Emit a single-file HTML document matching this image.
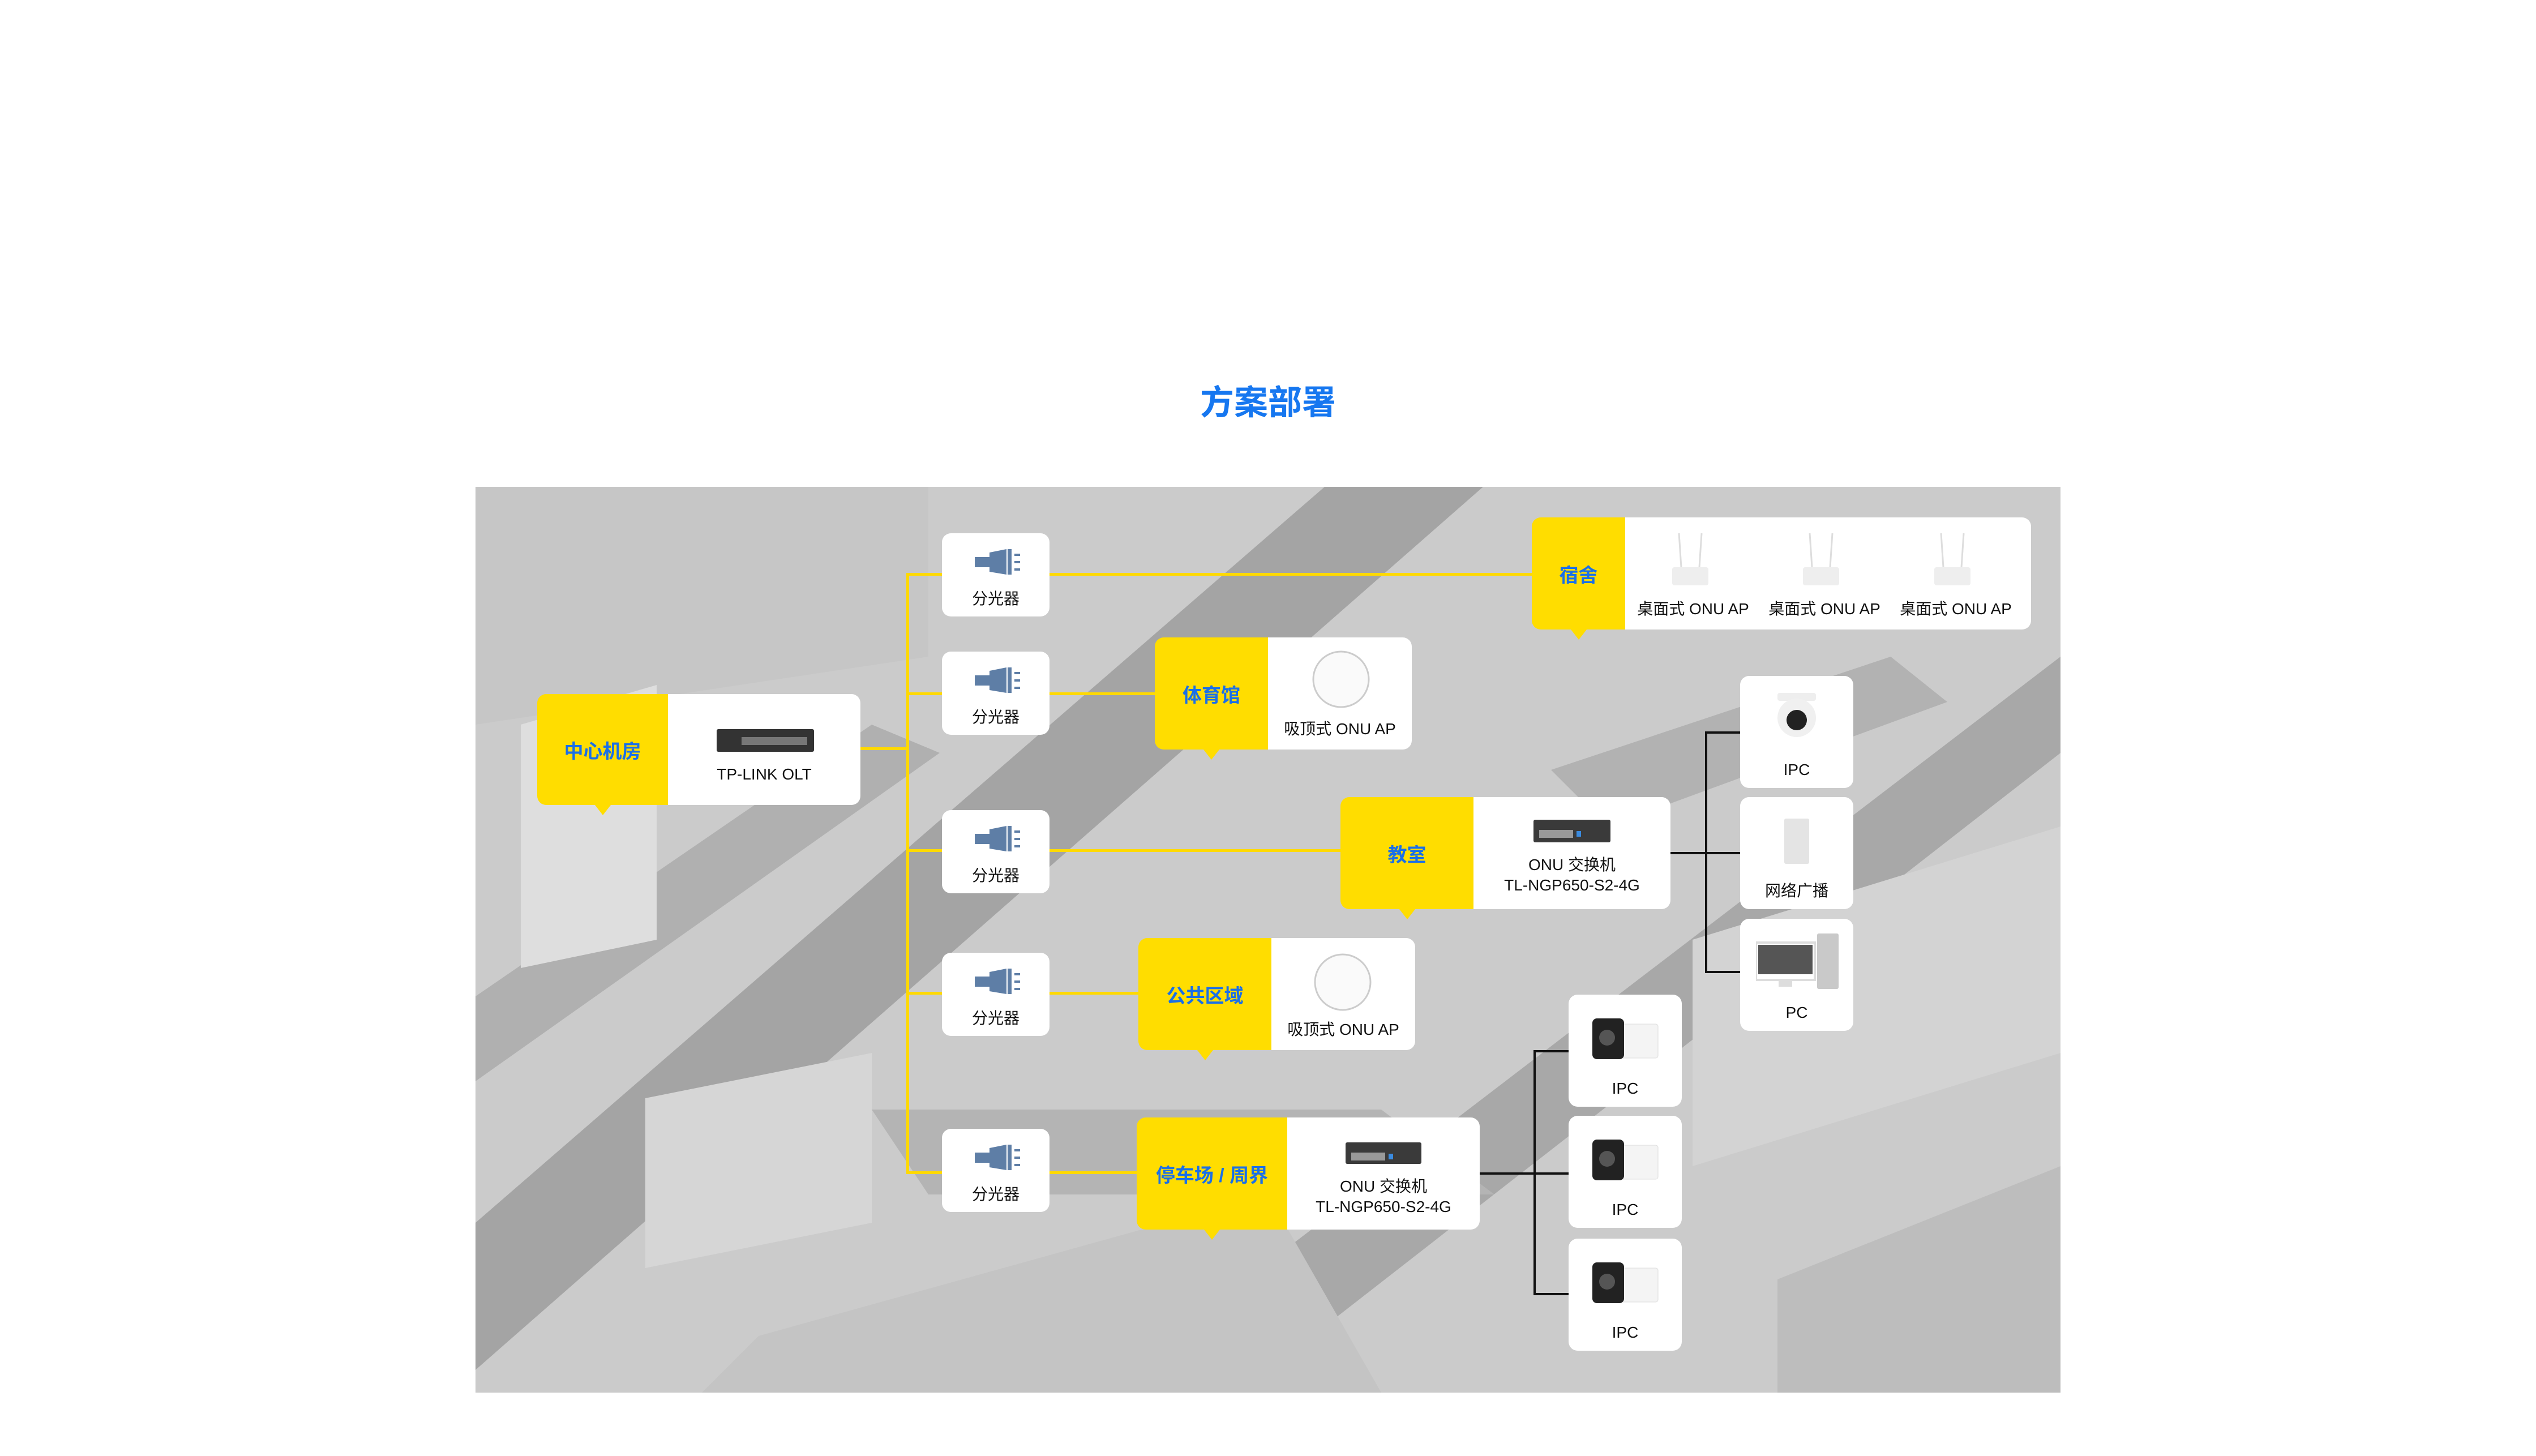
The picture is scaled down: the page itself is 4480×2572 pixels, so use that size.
<!DOCTYPE html>
<html><head><meta charset="utf-8"><style>
*{margin:0;padding:0;box-sizing:border-box}
body{width:4480px;height:2572px;background:#fff;position:relative;overflow:hidden;font-family:"Liberation Sans","Noto Sans CJK SC",sans-serif}
.abs{position:absolute}
.title{left:0;width:4480px;top:672px;text-align:center;font-size:60px;font-weight:bold;color:#1677f0;line-height:80px}
.map{left:840px;top:860px;width:2800px;height:1600px;background:#cdcdcd;overflow:hidden}
.card{position:absolute;background:#fff;border-radius:16px}
.sp{width:190px;height:147px}
.sp svg{position:absolute;left:58px;top:28px}
.sp .t{position:absolute;left:0;right:0;top:94px;text-align:center;font-size:28px;color:#111}
.loc{position:absolute;display:flex;border-radius:16px;overflow:visible}
.loc .y{background:#ffdd00;border-radius:16px 0 0 16px;display:flex;align-items:center;justify-content:center;color:#1a6fe8;font-weight:bold;font-size:34px;position:relative}
.loc .y:after{content:"";position:absolute;bottom:-18px;left:50%;margin-left:-14px;border-left:14px solid transparent;border-right:14px solid transparent;border-top:18px solid #ffdd00}
.loc .w{background:#fff;border-radius:0 16px 16px 0;position:relative}
.lbl{position:absolute;left:0;right:0;text-align:center;font-size:28px;color:#111;line-height:36px}
.yl{position:absolute;background:#ffd900}
.bl{position:absolute;background:#111}
.dev{width:200px;height:198px}
</style></head><body>
<div class="abs title">方案部署</div>
<div class="abs map">
<svg width="2800" height="1600" style="position:absolute;left:0;top:0">
<rect width="2800" height="1600" fill="#cbcbcb"/>
<polygon points="0,1300 1500,0 1780,0 0,1560" fill="#a4a4a4"/>
<polygon points="0,900 700,420 820,470 0,1050" fill="#b0b0b0"/>
<polygon points="1100,1600 2800,300 2800,470 1350,1600" fill="#a8a8a8"/>
<polygon points="700,1100 1600,1100 1800,1250 800,1250" fill="#b4b4b4"/>
<polygon points="1900,500 2500,300 2600,380 2000,600" fill="#b2b2b2"/>
<polygon points="0,0 800,0 800,300 0,420" fill="#c6c6c6"/>
<polygon points="80,420 320,350 320,800 80,850" fill="#dedede"/>
<polygon points="300,1080 700,1000 700,1300 300,1380" fill="#d6d6d6"/>
<polygon points="2150,800 2800,600 2800,1000 2150,1200" fill="#d3d3d3"/>
<polygon points="500,1500 1400,1250 1600,1600 400,1600" fill="#c4c4c4"/>
<polygon points="2300,1400 2800,1200 2800,1600 2300,1600" fill="#bdbdbd"/>
</svg>
</div>

<div class="yl" style="left:1601px;top:1014px;width:5px;height:1060px"></div>
<div class="yl" style="left:1520px;top:1320px;width:84px;height:5px"></div>
<div class="yl" style="left:1601px;top:1012px;width:1105px;height:5px"></div>
<div class="yl" style="left:1601px;top:1223px;width:440px;height:5px"></div>
<div class="yl" style="left:1601px;top:1500px;width:768px;height:5px"></div>
<div class="yl" style="left:1601px;top:1752px;width:410px;height:5px"></div>
<div class="yl" style="left:1601px;top:2069px;width:408px;height:5px"></div>

<div class="bl" style="left:2951px;top:1505px;width:124px;height:4px"></div>
<div class="bl" style="left:3012px;top:1292px;width:4px;height:427px"></div>
<div class="bl" style="left:3012px;top:1292px;width:62px;height:4px"></div>
<div class="bl" style="left:3012px;top:1715px;width:62px;height:4px"></div>
<div class="bl" style="left:2614px;top:2071px;width:157px;height:4px"></div>
<div class="bl" style="left:2709px;top:1855px;width:4px;height:433px"></div>
<div class="bl" style="left:2709px;top:1855px;width:62px;height:4px"></div>
<div class="bl" style="left:2709px;top:2284px;width:62px;height:4px"></div>

<div class="card sp" style="left:1664px;top:942px"><svg width="80" height="50"><polygon points="0,14 26,14 26,6 56,0 56,45 26,40 26,32 0,32" fill="#5e7ea6"/><rect x="58" y="0" width="7" height="45" fill="#5e7ea6"/><rect x="70" y="8" width="10" height="4" fill="#5e7ea6"/><rect x="70" y="21" width="10" height="4" fill="#5e7ea6"/><rect x="70" y="34" width="10" height="4" fill="#5e7ea6"/></svg><div class="t">分光器</div></div>
<div class="card sp" style="left:1664px;top:1151px"><svg width="80" height="50"><polygon points="0,14 26,14 26,6 56,0 56,45 26,40 26,32 0,32" fill="#5e7ea6"/><rect x="58" y="0" width="7" height="45" fill="#5e7ea6"/><rect x="70" y="8" width="10" height="4" fill="#5e7ea6"/><rect x="70" y="21" width="10" height="4" fill="#5e7ea6"/><rect x="70" y="34" width="10" height="4" fill="#5e7ea6"/></svg><div class="t">分光器</div></div>
<div class="card sp" style="left:1664px;top:1431px"><svg width="80" height="50"><polygon points="0,14 26,14 26,6 56,0 56,45 26,40 26,32 0,32" fill="#5e7ea6"/><rect x="58" y="0" width="7" height="45" fill="#5e7ea6"/><rect x="70" y="8" width="10" height="4" fill="#5e7ea6"/><rect x="70" y="21" width="10" height="4" fill="#5e7ea6"/><rect x="70" y="34" width="10" height="4" fill="#5e7ea6"/></svg><div class="t">分光器</div></div>
<div class="card sp" style="left:1664px;top:1683px"><svg width="80" height="50"><polygon points="0,14 26,14 26,6 56,0 56,45 26,40 26,32 0,32" fill="#5e7ea6"/><rect x="58" y="0" width="7" height="45" fill="#5e7ea6"/><rect x="70" y="8" width="10" height="4" fill="#5e7ea6"/><rect x="70" y="21" width="10" height="4" fill="#5e7ea6"/><rect x="70" y="34" width="10" height="4" fill="#5e7ea6"/></svg><div class="t">分光器</div></div>
<div class="card sp" style="left:1664px;top:1994px"><svg width="80" height="50"><polygon points="0,14 26,14 26,6 56,0 56,45 26,40 26,32 0,32" fill="#5e7ea6"/><rect x="58" y="0" width="7" height="45" fill="#5e7ea6"/><rect x="70" y="8" width="10" height="4" fill="#5e7ea6"/><rect x="70" y="21" width="10" height="4" fill="#5e7ea6"/><rect x="70" y="34" width="10" height="4" fill="#5e7ea6"/></svg><div class="t">分光器</div></div>

<div class="loc" style="left:949px;top:1226px;height:196px">
<div class="y" style="width:231px">中心机房</div>
<div class="w" style="width:340px"><svg class="abs" style="left:86px;top:62px" width="172" height="40"><rect width="172" height="40" rx="3" fill="#333"/><rect x="44" y="14" width="116" height="14" fill="#777"/></svg><div class="lbl" style="top:124px">TP-LINK OLT</div></div>
</div>

<div class="loc" style="left:2040px;top:1126px;height:198px">
<div class="y" style="width:200px">体育馆</div>
<div class="w" style="width:254px"><svg class="abs" style="left:77px;top:22px" width="104" height="104"><circle cx="52" cy="52" r="49" fill="#fafafa" stroke="#ccc" stroke-width="3"/></svg><div class="lbl" style="top:144px">吸顶式 ONU AP</div></div>
</div>

<div class="loc" style="left:2706px;top:914px;height:198px">
<div class="y" style="width:165px">宿舍</div>
<div class="w" style="width:717px">
<svg class="abs" style="left:75px;top:28px" width="80" height="96"><line x1="20" y1="0" x2="24" y2="60" stroke="#ddd" stroke-width="3"/><line x1="60" y1="0" x2="56" y2="60" stroke="#ddd" stroke-width="3"/><rect x="8" y="60" width="64" height="32" rx="4" fill="#eee"/></svg>
<svg class="abs" style="left:306px;top:28px" width="80" height="96"><line x1="20" y1="0" x2="24" y2="60" stroke="#ddd" stroke-width="3"/><line x1="60" y1="0" x2="56" y2="60" stroke="#ddd" stroke-width="3"/><rect x="8" y="60" width="64" height="32" rx="4" fill="#eee"/></svg>
<svg class="abs" style="left:538px;top:28px" width="80" height="96"><line x1="20" y1="0" x2="24" y2="60" stroke="#ddd" stroke-width="3"/><line x1="60" y1="0" x2="56" y2="60" stroke="#ddd" stroke-width="3"/><rect x="8" y="60" width="64" height="32" rx="4" fill="#eee"/></svg>
<div class="lbl" style="top:144px;left:0;right:auto;width:240px">桌面式 ONU AP</div>
<div class="lbl" style="top:144px;left:232px;right:auto;width:240px">桌面式 ONU AP</div>
<div class="lbl" style="top:144px;left:464px;right:auto;width:240px">桌面式 ONU AP</div>
</div>
</div>

<div class="loc" style="left:2368px;top:1408px;height:198px">
<div class="y" style="width:235px">教室</div>
<div class="w" style="width:348px"><svg class="abs" style="left:106px;top:40px" width="136" height="40"><rect width="136" height="40" rx="3" fill="#3a3a3a"/><rect x="10" y="18" width="60" height="14" fill="#999"/><rect x="76" y="20" width="8" height="10" fill="#3a8be0"/></svg><div class="lbl" style="top:102px">ONU 交换机<br>TL-NGP650-S2-4G</div></div>
</div>

<div class="loc" style="left:2011px;top:1657px;height:198px">
<div class="y" style="width:235px">公共区域</div>
<div class="w" style="width:254px"><svg class="abs" style="left:74px;top:26px" width="104" height="104"><circle cx="52" cy="52" r="49" fill="#fafafa" stroke="#ccc" stroke-width="3"/></svg><div class="lbl" style="top:144px">吸顶式 ONU AP</div></div>
</div>

<div class="loc" style="left:2008px;top:1974px;height:198px">
<div class="y" style="width:266px">停车场 / 周界</div>
<div class="w" style="width:340px"><svg class="abs" style="left:103px;top:44px" width="134" height="38"><rect width="134" height="38" rx="3" fill="#3a3a3a"/><rect x="10" y="18" width="60" height="14" fill="#999"/><rect x="76" y="20" width="8" height="10" fill="#3a8be0"/></svg><div class="lbl" style="top:104px">ONU 交换机<br>TL-NGP650-S2-4G</div></div>
</div>

<div class="card dev" style="left:3074px;top:1194px"><svg class="abs" style="left:62px;top:30px" width="76" height="90"><rect x="4" y="0" width="68" height="14" rx="4" fill="#eee"/><circle cx="38" cy="44" r="34" fill="#f0f0f0"/><circle cx="38" cy="48" r="18" fill="#222"/></svg><div class="lbl" style="top:148px">IPC</div></div>
<div class="card dev" style="left:3074px;top:1408px"><svg class="abs" style="left:78px;top:38px" width="44" height="80"><rect width="44" height="80" rx="3" fill="#e4e4e4"/></svg><div class="lbl" style="top:148px">网络广播</div></div>
<div class="card dev" style="left:3074px;top:1623px"><svg class="abs" style="left:28px;top:26px" width="146" height="98"><rect x="0" y="16" width="104" height="66" fill="#fff" stroke="#ddd" stroke-width="4"/><rect x="4" y="20" width="96" height="52" fill="#555"/><rect x="40" y="82" width="24" height="12" fill="#ddd"/><rect x="108" y="0" width="38" height="98" rx="3" fill="#c9c9c9"/></svg><div class="lbl" style="top:148px">PC</div></div>

<div class="card dev" style="left:2771px;top:1757px"><svg class="abs" style="left:42px;top:42px" width="120" height="76"><rect x="40" y="10" width="76" height="60" rx="4" fill="#f4f4f4" stroke="#ddd"/><rect x="0" y="0" width="56" height="72" rx="8" fill="#222"/><circle cx="26" cy="34" r="14" fill="#555"/></svg><div class="lbl" style="top:148px">IPC</div></div>
<div class="card dev" style="left:2771px;top:1971px"><svg class="abs" style="left:42px;top:42px" width="120" height="76"><rect x="40" y="10" width="76" height="60" rx="4" fill="#f4f4f4" stroke="#ddd"/><rect x="0" y="0" width="56" height="72" rx="8" fill="#222"/><circle cx="26" cy="34" r="14" fill="#555"/></svg><div class="lbl" style="top:148px">IPC</div></div>
<div class="card dev" style="left:2771px;top:2188px"><svg class="abs" style="left:42px;top:42px" width="120" height="76"><rect x="40" y="10" width="76" height="60" rx="4" fill="#f4f4f4" stroke="#ddd"/><rect x="0" y="0" width="56" height="72" rx="8" fill="#222"/><circle cx="26" cy="34" r="14" fill="#555"/></svg><div class="lbl" style="top:148px">IPC</div></div>
</body></html>
